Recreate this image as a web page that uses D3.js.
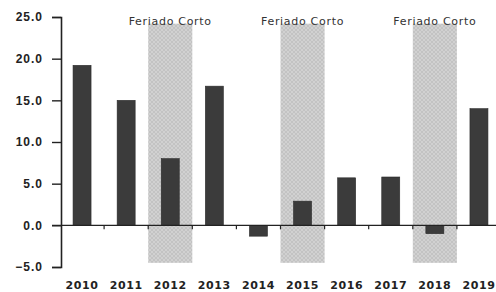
<!DOCTYPE html>
<html>
<head>
<meta charset="utf-8">
<script src="https://cdn.jsdelivr.net/npm/d3@7"></script>
<style>
  body { margin: 0; background: #fff; }
  svg { display: block; }
</style>
</head>
<body>
<svg id="chart"></svg>
<script>
var years = ["2010", "2011", "2012", "2013", "2014", "2015", "2016", "2017", "2018", "2019"];
var values = [19.2, 15.0, 8.0, 16.7, -1.3, 2.9, 5.7, 5.8, -1.0, 14.0];
var shadeYears = ["2012", "2015", "2018"];
var shadeLabel = "Feriado Corto";
var shadeSpan = [-4.5, 24.2];
var yTicks = [-5, 0, 5, 10, 15, 20, 25];

var width = 496,
    height = 292;

var svg = d3.select("#chart")
    .attr("width", width)
    .attr("height", height)
    .style("font-family", "'DejaVu Sans', sans-serif");

var defs = svg.append("defs");

// light cross hatch for the shaded years
var pat = defs.append("pattern")
    .attr("id", "hatch")
    .attr("patternUnits", "userSpaceOnUse")
    .attr("width", 4)
    .attr("height", 4);
pat.append("rect").attr("width", 4).attr("height", 4).attr("fill", "#c3c3c3");
pat.append("path")
    .attr("d", "M0,0 L4,4 M4,0 L0,4")
    .attr("stroke", "#d4d4d4")
    .attr("stroke-width", 0.8);

var xStep = d3.scaleBand()
    .domain(years)
    .range([60, 501]);

var barW = 18;

var y = d3.scaleLinear()
    .domain([-5, 25])
    .range([267, 17]);

// shaded periods
svg.append("g")
    .selectAll("rect")
    .data(shadeYears)
    .enter()
    .append("rect")
    .attr("x", function (d) { return xStep(d); })
    .attr("width", xStep.bandwidth())
    .attr("y", y(shadeSpan[1]))
    .attr("height", y(shadeSpan[0]) - y(shadeSpan[1]))
    .attr("fill", "url(#hatch)");

svg.append("g")
    .selectAll("text")
    .data(shadeYears)
    .enter()
    .append("text")
    .attr("x", function (d) { return xStep(d) + xStep.bandwidth() / 2; })
    .attr("y", 21)
    .attr("text-anchor", "middle")
    .attr("dominant-baseline", "central")
    .style("font-size", "11px")
    .style("letter-spacing", "0.7px")
    .style("fill", "#333")
    .text(shadeLabel);

// bars
svg.append("g")
    .selectAll("rect")
    .data(values)
    .enter()
    .append("rect")
    .attr("x", function (d, i) { return xStep(years[i]) + (xStep.bandwidth() - barW) / 2; })
    .attr("width", barW)
    .attr("y", function (d) { return y(Math.max(0, d)); })
    .attr("height", function (d) { return Math.abs(y(d) - y(0)); })
    .attr("fill", "#3b3b3b")
    .attr("stroke", "#2a2a2a")
    .attr("stroke-width", 0.6);

// y axis
var yAxis = d3.axisLeft(y)
    .tickValues(yTicks)
    .tickFormat(d3.format(".1f"))
    .tickSize(9)
    .tickPadding(9);

var gy = svg.append("g")
    .attr("transform", "translate(61,0)")
    .call(yAxis);
gy.select(".domain").attr("stroke", "#222").attr("stroke-width", 1.6);
gy.selectAll(".tick line").attr("stroke", "#222").attr("stroke-width", 1.4);
gy.selectAll(".tick text")
    .style("font-size", "12px")
    .style("font-weight", "bold")
    .style("letter-spacing", "1px")
    .style("fill", "#222");

// zero line with small ticks at band edges
var gx = svg.append("g")
    .attr("transform", "translate(0," + y(0) + ")");
gx.append("line")
    .attr("x1", 52)
    .attr("x2", width)
    .attr("stroke", "#222")
    .attr("stroke-width", 1.4);
gx.selectAll(".edge")
    .data(years.slice(1))
    .enter()
    .append("line")
    .attr("class", "edge")
    .attr("x1", function (d) { return xStep(d); })
    .attr("x2", function (d) { return xStep(d); })
    .attr("y1", 0)
    .attr("y2", 4)
    .attr("stroke", "#222")
    .attr("stroke-width", 1.2);

// year labels
svg.append("g")
    .selectAll("text")
    .data(years)
    .enter()
    .append("text")
    .attr("x", function (d) { return xStep(d) + xStep.bandwidth() / 2; })
    .attr("y", 285)
    .attr("text-anchor", "middle")
    .attr("dominant-baseline", "central")
    .style("font-size", "11px")
    .style("font-weight", "bold")
    .style("letter-spacing", "0.6px")
    .style("fill", "#222")
    .text(function (d) { return d; });
</script>
</body>
</html>
